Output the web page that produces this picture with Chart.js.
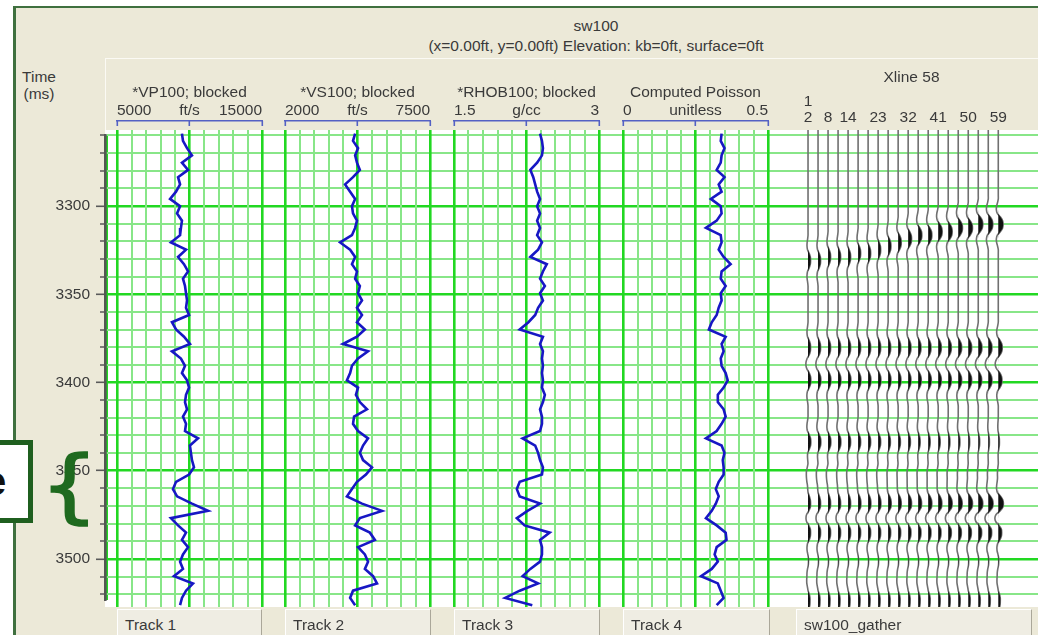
<!DOCTYPE html>
<html>
<head>
<meta charset="utf-8">
<script src="https://cdn.jsdelivr.net/npm/chart.js@4.4.1/dist/chart.umd.min.js"></script>
<style>
  html, body { margin: 0; padding: 0; }
  body { width: 1038px; height: 635px; position: relative; overflow: hidden; background: #fff;
         font-family: "Liberation Sans", Arial, sans-serif; font-size: 15.5px; color: #3a3a3a; }
  .abs { position: absolute; }
  #frame { left: 13px; top: 6px; width: 1030px; height: 640px; background: #ece9d8;
           border-left: 3px solid #3f703f; border-top: 2px solid #3f703f; box-sizing: border-box; }
  #hdr { left: 105px; top: 58px; width: 940px; height: 72px; border-top: 1px solid #fbfaf4;
         border-left: 1px solid #fbfaf4; box-sizing: border-box; }
  #plotbg { left: 105px; top: 130px; width: 933px; height: 477px; background: #fff; }
  .ctr { text-align: center; white-space: nowrap; }
  .tab { top: 609px; height: 30px; line-height: 30px; padding-left: 7px; box-sizing: border-box;
         background: #efede3; border-top: 1px solid #fff; border-left: 1px solid #fff;
         border-right: 1px solid #aaa799; white-space: nowrap; }
  #ebox { left: -10px; top: 440px; width: 43px; height: 83px; background: #fff;
          border: 5px solid #1f5f1f; box-sizing: border-box; overflow: hidden; }
  #ebox span { position: absolute; left: -11px; top: 14px; font: bold 40px "Liberation Sans", Arial, sans-serif; color: #111; }
  #brace { left: 40px; top: 442px; font: 80px "DejaVu Sans", sans-serif; color: #1f6a1f; line-height: 88px;
           -webkit-text-stroke: 1.6px #1f6a1f; transform: scaleX(1.15); transform-origin: left top; }
  canvas { position: absolute; }
</style>
</head>
<body>
<div id="frame" class="abs"></div>
<div class="abs ctr" style="left:496px;top:17px;width:200px;">sw100</div>
<div class="abs ctr" style="left:396px;top:37px;width:400px;">(x=0.00ft, y=0.00ft) Elevation: kb=0ft, surface=0ft</div>
<div id="hdr" class="abs"></div>
<div class="abs ctr" style="left:9px;top:68px;width:60px;">Time</div>
<div class="abs ctr" style="left:9px;top:85px;width:60px;">(ms)</div>
<div id="plotbg" class="abs"></div>

<canvas id="base" width="1038" height="495" style="left:0;top:120px;"></canvas>
<canvas id="track0"></canvas>
<canvas id="track1"></canvas>
<canvas id="track2"></canvas>
<canvas id="track3"></canvas>
<canvas id="gather" width="253" height="543" style="left:785px;top:64px;"></canvas>

<div id="tabs"></div>
<div id="ebox" class="abs"><span>e</span></div>
<div id="brace" class="abs">{</div>

<script>
// time window (ms) of the display
const tMin = 3260;
const tMax = 3523;

// log samples every 4 ms starting at 3262 ms
const logVP = [9480, 9550, 9830, 10170, 9480, 9900, 9210, 9350, 9070, 8660,
  9350, 9140, 9480, 9410, 9350, 8720, 9760, 9210, 9620, 9900,
  9550, 9690, 9760, 9830, 9760, 9970, 8790, 9070, 9620, 10030,
  8790, 9410, 9690, 9480, 9830, 9970, 9760, 9690, 9830, 9550,
  9760, 9690, 10590, 10030, 10100, 10170, 10310, 9970, 9070, 8860,
  9140, 10170, 11280, 8720, 9210, 9760, 9480, 9900, 9550, 9350,
  9550, 8930, 10240, 9760, 9480, 9350];
const logVS = [4660, 4580, 4770, 4660, 4730, 4840, 4580, 4280, 4470, 4660,
  4540, 4580, 4730, 4660, 4540, 4090, 4470, 4660, 4540, 4730,
  4660, 4840, 4770, 4920, 4730, 4920, 4730, 5030, 4730, 4200,
  5150, 4770, 4540, 4470, 4350, 4770, 4690, 4840, 5110, 4620,
  4580, 4770, 5150, 4960, 4840, 4960, 5300, 5070, 4730, 4540,
  4350, 4920, 5680, 4840, 4660, 5220, 5410, 4770, 5030, 5150,
  5030, 5340, 5490, 4580, 4470, 4660];
const logRHOB = [2.39, 2.41, 2.42, 2.41, 2.36, 2.29, 2.32, 2.34, 2.36, 2.39,
  2.36, 2.39, 2.36, 2.39, 2.36, 2.41, 2.37, 2.29, 2.46, 2.42,
  2.39, 2.44, 2.39, 2.42, 2.37, 2.34, 2.27, 2.18, 2.42, 2.39,
  2.42, 2.41, 2.42, 2.41, 2.42, 2.41, 2.44, 2.42, 2.39, 2.41,
  2.41, 2.39, 2.21, 2.34, 2.37, 2.39, 2.42, 2.41, 2.18, 2.15,
  2.18, 2.39, 2.26, 2.15, 2.23, 2.49, 2.39, 2.41, 2.41, 2.39,
  2.29, 2.21, 2.37, 2.18, 2.03, 2.31];
const logPoisson = [0.340, 0.337, 0.350, 0.340, 0.337, 0.323, 0.350, 0.330, 0.340, 0.303,
  0.337, 0.340, 0.323, 0.286, 0.337, 0.340, 0.330, 0.347, 0.371, 0.340,
  0.337, 0.354, 0.337, 0.340, 0.330, 0.323, 0.306, 0.296, 0.354, 0.340,
  0.347, 0.337, 0.340, 0.354, 0.361, 0.347, 0.327, 0.327, 0.347, 0.354,
  0.340, 0.323, 0.286, 0.340, 0.350, 0.344, 0.347, 0.347, 0.330, 0.320,
  0.330, 0.320, 0.306, 0.286, 0.323, 0.354, 0.357, 0.323, 0.316, 0.327,
  0.306, 0.269, 0.327, 0.337, 0.347, 0.323];
const logTimes = logVP.map((_, i) => 3262 + 4 * i);

const trackTitles = ['*VP100; blocked', '*VS100; blocked', '*RHOB100; blocked', 'Computed Poisson'];
const trackUnits = ['ft/s', 'ft/s', 'g/cc', 'unitless'];
const trackMin = [5000, 2000, 1.5, 0];
const trackMax = [15000, 7500, 3, 0.5];
const trackMinLabels = ['5000', '2000', '1.5', '0'];
const trackMaxLabels = ['15000', '7500', '3', '0.5'];
const trackLogs = [logVP, logVS, logRHOB, logPoisson];
const tabNames = ['Track 1', 'Track 2', 'Track 3', 'Track 4', 'sw100_gather'];

// gather: trace numbers, event times (ms) and per-trace amplitudes
const gatherTraces = [2, 5, 8, 11, 14, 17, 20, 23, 26, 29, 32, 35, 38, 41, 44, 47, 50, 53, 56, 59];
const gatherTickValues = [2, 8, 14, 23, 32, 41, 50, 59];
const gatherTickLabels = [['1', '2'], '8', '14', '23', '32', '41', '50', '59'];
const dipTimes = [3332, 3332, 3331, 3331, 3330, 3329, 3328, 3327, 3325, 3323,
  3321, 3319, 3318, 3317, 3316, 3315, 3314, 3313, 3312, 3312];
const eventTimes = [dipTimes, 3380, 3399, 3433, 3450, 3466, 3482, 3506, 3521];
const eventAmps = [
  [0.9, 0.9, 0.9, 0.9, 0.9, 0.9, 0.9, 0.9, 1.0, 1.1, 1.2, 1.3, 1.3, 1.4, 1.4, 1.5, 1.5, 1.6, 1.6, 1.7],
  [0.9, 0.9, 0.9, 0.9, 0.9, 0.9, 0.9, 0.9, 0.9, 0.9, 1.0, 1.0, 1.0, 1.1, 1.1, 1.2, 1.2, 1.3, 1.3, 1.4],
  [1.0, 1.0, 1.0, 1.0, 1.0, 1.0, 1.0, 1.0, 1.0, 1.0, 1.0, 1.1, 1.1, 1.1, 1.1, 1.2, 1.2, 1.2, 1.3, 1.3],
  [1.0, 1.0, 1.0, 1.0, 0.9, 0.9, 0.9, 0.9, 0.8, 0.8, 0.8, 0.7, 0.7, 0.7, 0.6, 0.6, 0.5, 0.5, 0.4, 0.4],
  [-0.6, -0.6, -0.6, -0.5, -0.5, -0.5, -0.5, -0.5, -0.4, -0.4, -0.4, -0.4, -0.4, -0.4, -0.4, -0.3, -0.3, -0.3, -0.3, -0.3],
  [0.9, 0.9, 0.9, 0.9, 0.9, 1.0, 1.0, 1.0, 1.1, 1.1, 1.2, 1.2, 1.3, 1.3, 1.4, 1.4, 1.5, 1.6, 1.7, 1.8],
  [0.9, 0.9, 0.9, 0.9, 0.9, 0.9, 0.9, 0.9, 0.9, 0.9, 1.0, 1.0, 1.0, 1.0, 1.1, 1.1, 1.1, 1.2, 1.2, 1.2],
  [-0.4, -0.4, -0.4, -0.4, -0.4, -0.4, -0.4, -0.4, -0.4, -0.4, -0.4, -0.4, -0.4, -0.4, -0.4, -0.4, -0.4, -0.4, -0.4, -0.4],
  [0.7, 0.7, 0.7, 0.7, 0.7, 0.7, 0.7, 0.7, 0.7, 0.7, 0.7, 0.7, 0.7, 0.7, 0.7, 0.7, 0.7, 0.7, 0.7, 0.7]
];
// wavelet sampled every 2 ms, peak in the middle
const wavelet = [-0.15, -0.35, -0.4, -0.2, 0.45, 0.9, 1.0, 0.9, 0.45, -0.2, -0.4, -0.35, -0.15];
const gatherTimes = Array.from({length: 133}, (_, i) => 3260 + 2 * i);

// layout / style
const trackLeft = [117, 285, 454, 623];
const trackWidth = 145;
const gMajor = '#22d822';
const gMinor = '#88e688';
const logBlue = '#1717c4';
const bracketBlue = '#5461c4';
const txt = '#3a3a3a';
const font = {family: '"Liberation Sans", Arial, sans-serif', size: 15.5};
const wiggleGain = 0.85;

const noPlugins = {legend: {display: false}, tooltip: {enabled: false}};

// base chart: time axis and horizontal grid
new Chart(document.getElementById('base'), {
  type: 'line',
  data: {datasets: []},
  options: {
    responsive: false,
    animation: false,
    layout: {padding: {top: 10, bottom: 8, left: 0, right: 0}, autoPadding: false},
    plugins: noPlugins,
    scales: {
      x: {
        type: 'linear', min: 0, max: 933,
        afterBuildTicks: s => { s.ticks = [{value: 2}]; },
        ticks: {display: false},
        border: {display: false},
        grid: {drawTicks: false, color: gMajor, lineWidth: 2}
      },
      y: {
        type: 'linear', min: tMin, max: tMax, reverse: true,
        afterFit: s => { s.width = 105; },
        ticks: {
          stepSize: 10, includeBounds: false, autoSkip: false, padding: 6, color: txt, font: font,
          callback: v => (v % 50 === 0 ? String(v) : '')
        },
        grid: {
          color: c => (c.tick && c.tick.value % 50 === 0 ? gMajor : gMinor),
          lineWidth: c => (c.tick && c.tick.value % 50 === 0 ? 2.6 : 2),
          tickLength: 9, tickColor: '#5a5a5a', tickWidth: 1.6,
          tickBorderDash: c => (c.tick && c.tick.value % 50 === 0 ? [] : [0, 4, 20])
        },
        border: {color: '#555', width: 2.6}
      }
    }
  }
});

// the four log tracks
trackLogs.forEach((log, i) => {
  const lo = trackMin[i], hi = trackMax[i];
  const el = document.getElementById('track' + i);
  el.width = trackWidth + 4;
  el.height = 527;
  el.style.left = (trackLeft[i] - 2) + 'px';
  el.style.top = '80px';
  new Chart(el, {
    type: 'line',
    data: {
      datasets: [{
        data: logTimes.map((t, k) => ({x: log[k], y: t})),
        borderColor: logBlue, borderWidth: 2.6, pointRadius: 0, tension: 0, fill: false
      }]
    },
    options: {
      indexAxis: 'y',
      responsive: false,
      animation: false,
      layout: {padding: {left: 2, right: 2, top: 0, bottom: 0}, autoPadding: false},
      plugins: noPlugins,
      scales: {
        y: {type: 'linear', min: tMin, max: tMax, reverse: true, display: false},
        x: {
          type: 'linear', position: 'top', min: lo, max: hi, weight: 0,
          afterBuildTicks: s => { s.ticks = Array.from({length: 11}, (_, j) => ({value: lo + (hi - lo) * j / 10})); },
          afterFit: s => { s.height = 9; },
          ticks: {display: false},
          border: {display: false},
          grid: {
            color: c => (c.index % 5 === 0 ? gMajor : gMinor),
            lineWidth: c => (c.index % 5 === 0 ? 2.6 : 2),
            tickLength: 9, tickWidth: 1.6, tickBorderDash: [5, 30],
            tickColor: c => (c.index % 5 === 0 ? bracketBlue : 'rgba(0,0,0,0)')
          }
        },
        xh: {
          type: 'linear', axis: 'x', position: 'top', min: lo, max: hi, weight: 1,
          afterBuildTicks: s => { s.ticks = [lo, (lo + hi) / 2, hi].map(v => ({value: v})); },
          afterFit: s => { s.height = 41; },
          ticks: {
            align: 'inner', autoSkip: false, maxRotation: 0, padding: 1, color: txt, font: font,
            callback: (v, idx) => [trackMinLabels[i], trackUnits[i], trackMaxLabels[i]][idx]
          },
          grid: {display: false, drawOnChartArea: false, drawTicks: false},
          border: {display: true, color: bracketBlue, width: 1.6},
          title: {display: true, text: trackTitles[i], color: txt, font: font, padding: {top: 3, bottom: 0}}
        }
      }
    }
  });
});

// gather traces: wiggle line plus black filled positive lobes
function traceAmplitudes(k) {
  const half = (wavelet.length - 1) / 2;
  return gatherTimes.map(t => {
    let a = 0;
    eventTimes.forEach((te, e) => {
      const tk = typeof te === 'number' ? te : te[k];
      const idx = Math.round((t - tk) / 2) + half;
      if (idx >= 0 && idx < wavelet.length) a += eventAmps[e][k] * wavelet[idx];
    });
    return a;
  });
}

const gatherSets = [];
gatherTraces.forEach((tr, k) => {
  const amps = traceAmplitudes(k);
  gatherSets.push({
    data: gatherTimes.map((t, n) => ({x: tr + wiggleGain * Math.max(amps[n], 0), y: t})),
    borderWidth: 0, pointRadius: 0, backgroundColor: '#111', fill: {target: {value: tr}}, tension: 0.3
  });
  gatherSets.push({
    data: gatherTimes.map((t, n) => ({x: tr + wiggleGain * amps[n], y: t})),
    borderColor: '#707070', borderWidth: 1.6, pointRadius: 0, fill: false, tension: 0.3
  });
});

new Chart(document.getElementById('gather'), {
  type: 'line',
  data: {datasets: gatherSets},
  options: {
    indexAxis: 'y',
    responsive: false,
    animation: false,
    layout: {padding: 0, autoPadding: false},
    plugins: noPlugins,
    scales: {
      y: {type: 'linear', min: tMin, max: tMax, reverse: true, display: false},
      x: {
        type: 'linear', position: 'top', min: -4.9, max: 70.9,
        afterBuildTicks: s => { s.ticks = gatherTickValues.map(v => ({value: v})); },
        afterFit: s => { s.height = 66; },
        ticks: {
          autoSkip: false, maxRotation: 0, padding: 4, color: txt,
          font: {family: font.family, size: 15.5, lineHeight: 1.05},
          callback: (v, idx) => gatherTickLabels[idx]
        },
        grid: {display: false, drawTicks: false},
        border: {display: false},
        title: {display: true, text: 'Xline 58', color: txt, font: font, padding: {top: 4, bottom: 0}}
      }
    }
  }
});

// bottom tabs
const tabLefts = [117, 285, 454, 623, 796];
const tabWidths = [145, 146, 146, 147, 236];
tabNames.forEach((name, i) => {
  const d = document.createElement('div');
  d.className = 'abs tab';
  d.style.left = tabLefts[i] + 'px';
  d.style.width = tabWidths[i] + 'px';
  d.textContent = name;
  document.getElementById('tabs').appendChild(d);
});
</script>
</body>
</html>
